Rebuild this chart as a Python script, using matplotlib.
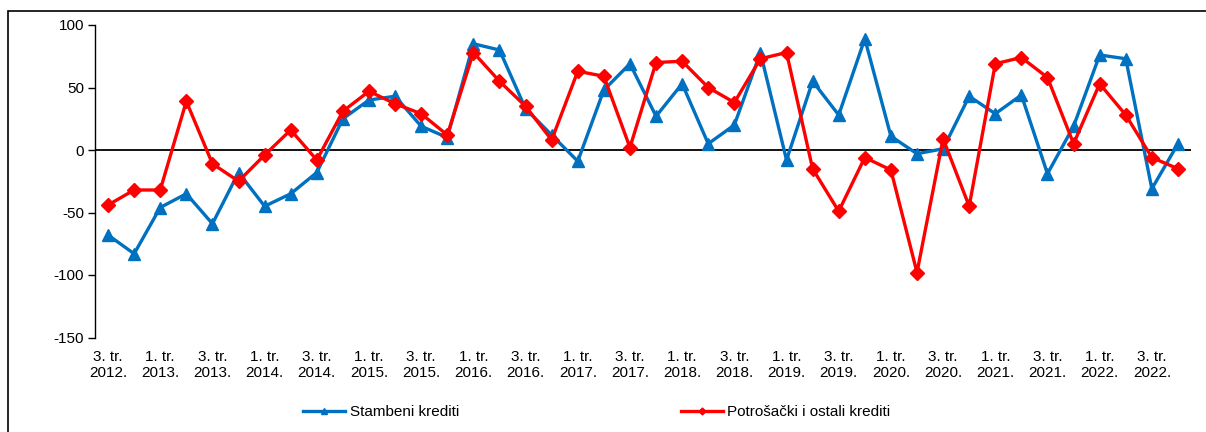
import matplotlib.pyplot as plt
import numpy as np
from matplotlib.patches import Rectangle

plt.rcParams["font.family"] = ["Liberation Sans", "DejaVu Sans"]
plt.rcParams["axes.unicode_minus"] = False

# quarterly values, 3Q 2012 .. 4Q 2022
stambeni = [-68, -83, -46, -35, -59, -18, -45, -35, -18, 25, 40, 43,
            19, 10, 85, 80, 33, 12, -9, 48, 69, 27, 53, 5, 20, 78,
            -8, 55, 28, 89, 11, -3, 1, 43, 29, 44, -19, 19, 76, 73,
            -31, 5]
potrosacki = [-44, -32, -32, 39, -11, -25, -4, 16, -8, 31, 47, 37,
              29, 12, 78, 55, 35, 8, 63, 59, 2, 70, 71, 50, 38, 73,
              78, -15, -49, -6, -16, -98, 9, -45, 69, 74, 58, 5, 53, 28,
              -6, -15]
tick_labels = ["3. tr.\n2012.", "1. tr.\n2013.", "3. tr.\n2013.", "1. tr.\n2014.",
               "3. tr.\n2014.", "1. tr.\n2015.", "3. tr.\n2015.", "1. tr.\n2016.",
               "3. tr.\n2016.", "1. tr.\n2017.", "3. tr.\n2017.", "1. tr.\n2018.",
               "3. tr.\n2018.", "1. tr.\n2019.", "3. tr.\n2019.", "1. tr.\n2020.",
               "3. tr.\n2020.", "1. tr.\n2021.", "3. tr.\n2021.", "1. tr.\n2022.",
               "3. tr.\n2022."]
series_names = ["Stambeni krediti", "Potrošački i ostali krediti"]

W, H = 1206, 432
fig = plt.figure(figsize=(W / 100, H / 100), dpi=100)
ax = fig.add_axes([95 / W, 1 - 337.5 / H, (1191 - 95) / W, (337.5 - 25) / H])

# outer frame (cut off at right and bottom like the original)
fig.patches.append(Rectangle((8 / W, -0.2), 1.2, 1.2 - 10.7 / H,
                             transform=fig.transFigure, fill=False,
                             edgecolor="black", linewidth=1.2))

x = np.arange(len(stambeni))
ax.plot(x, stambeni, color="#0070C0", linewidth=2.4, marker="^",
        markersize=8, label=series_names[0])
ax.plot(x, potrosacki, color="#FF0000", linewidth=2.4, marker="D",
        markersize=7, label=series_names[1])

ax.axhline(0, color="black", linewidth=1.3, zorder=1)

ax.set_xlim(-0.5, len(stambeni) - 0.5)
ax.set_ylim(-150, 100)
ax.set_yticks([-150, -100, -50, 0, 50, 100])
ax.set_xticks(x[::2])
ax.set_xticklabels(tick_labels, fontsize=11, linespacing=1.2)
ax.tick_params(axis="x", length=0, pad=9)
ax.tick_params(axis="y", length=5, width=1, labelsize=11, pad=3)

for side in ["top", "right", "bottom"]:
    ax.spines[side].set_visible(False)
ax.spines["left"].set_linewidth(1)

leg = fig.legend(loc="center", bbox_to_anchor=(0.495, 1 - 412 / H), ncol=2,
                 frameon=False, fontsize=11, handlelength=2.75,
                 handletextpad=0.3, columnspacing=14.5, markerscale=0.5)

fig.savefig("out.png", dpi=100)
